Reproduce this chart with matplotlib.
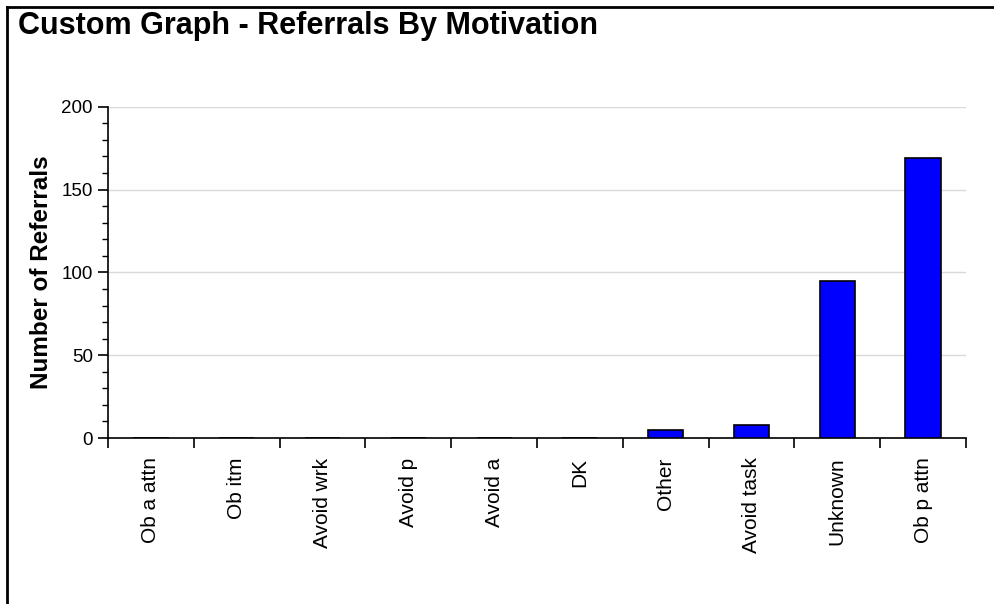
import matplotlib.pyplot as plt
from matplotlib.lines import Line2D
import numpy as np

plt.rcParams['font.family'] = ['Liberation Sans', 'DejaVu Sans']

categories = ['Ob a attn', 'Ob itm', 'Avoid wrk', 'Avoid p', 'Avoid a',
              'DK', 'Other', 'Avoid task', 'Unknown', 'Ob p attn']
referrals = [0, 0, 0, 0, 0, 0, 5, 8, 95, 169]

fig = plt.figure(figsize=(9.94, 6.04), dpi=100)
ax = fig.add_axes([0.1087, 0.2748, 0.8631, 0.5485])

x = np.arange(len(categories))
ax.bar(x, referrals, width=0.41, color='#0000ff', edgecolor='black',
       linewidth=1.2, zorder=3)

ax.set_xlim(-0.5, len(categories) - 0.5)
ax.set_ylim(0, 200)

# ticks at category boundaries, labels at centres
ax.set_xticks(np.arange(len(categories) + 1) - 0.5)
ax.set_xticklabels([])
ax.set_xticks(x, minor=True)
ax.set_xticklabels(categories, minor=True, rotation=90, fontsize=15)
ax.tick_params(axis='x', which='major', direction='out', length=7, width=1.2)
ax.tick_params(axis='x', which='minor', length=0, pad=14)

ax.set_yticks([0, 50, 100, 150, 200])
ax.set_yticks(np.arange(0, 201, 10), minor=True)
ax.tick_params(axis='y', which='major', length=7, width=1.2, labelsize=13.5, pad=4)
ax.tick_params(axis='y', which='minor', length=4, width=1.0)

ax.yaxis.grid(True, color='#d9d9d9', linewidth=1.0, zorder=0)
ax.set_axisbelow(True)
for s in ['top', 'right']:
    ax.spines[s].set_visible(False)
ax.spines['left'].set_linewidth(1.2)
ax.spines['bottom'].set_linewidth(1.2)

ax.set_ylabel('Number of Referrals', fontsize=17.5, fontweight='bold', labelpad=6)

fig.text(0.018, 0.957, 'Custom Graph - Referrals By Motivation', fontsize=22,
         fontweight='bold', ha='left', va='center')

# frame lines at top and left
fig.add_artist(Line2D([0.007, 0.007], [0, 0.988], color='black', linewidth=2))
fig.add_artist(Line2D([0.007, 1], [0.988, 0.988], color='black', linewidth=2))

fig.savefig('out.png', dpi=100)
